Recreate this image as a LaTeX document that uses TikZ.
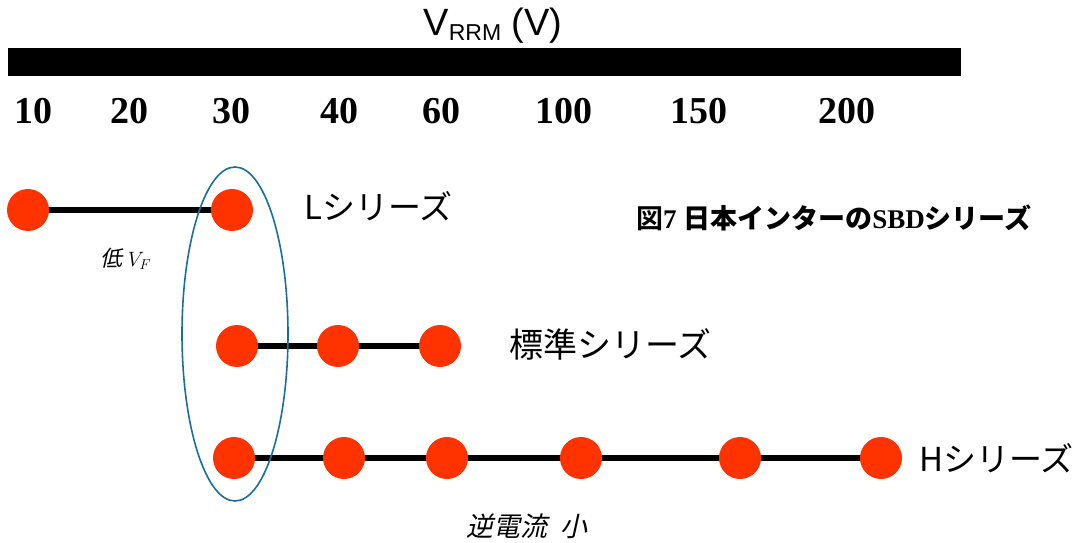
\documentclass[tikz,border=0pt]{standalone}
\usepackage{fontspec}
\setmainfont{Liberation Sans}
\newfontfamily\serifb{Liberation Serif}[BoldFont={* Bold}]
\newfontfamily\cjk{Noto Sans CJK JP}
\newfontfamily\cjkslant{Noto Sans CJK JP}[FakeSlant=0.22]
\newfontfamily\cjkbold{Noto Sans CJK JP Bold}
\usetikzlibrary{shapes.geometric,backgrounds}
\definecolor{dot}{RGB}{255,51,0}
\definecolor{ringblue}{RGB}{25,110,160}
\tikzset{
  dotnode/.style={circle,fill=dot,draw=none,minimum size=42pt,inner sep=0pt},
  link/.style={line width=6.5pt,black},
  tick/.style={anchor=base,inner sep=0pt,font=\serifb\bfseries\fontsize{38}{38}\selectfont},
  serieslabel/.style={anchor=base west,inner sep=0pt},
  ring/.style={ellipse,draw=ringblue,line width=1.6pt,minimum width=106pt,minimum height=334pt,inner sep=0pt}
}
\begin{document}
\begin{tikzpicture}[x=1pt,y=-1pt]
\useasboundingbox (0,0) rectangle (1080,543);
% title and bar
\node[anchor=base,inner sep=0pt] (title) at (493,36) {\fontsize{38}{38}\selectfont V\raisebox{-5pt}{\fontsize{23}{23}\selectfont RRM} (V)};
\fill[black] (8,48) rectangle (961,76);
\node (bar) at (484,62) {};
% scale numbers
\node[tick] (t10) at (33,124) {10};
\node[tick] (t20) at (129,124) {20};
\node[tick] (t30) at (231,124) {30};
\node[tick] (t40) at (339,124) {40};
\node[tick] (t60) at (441,124) {60};
\node[tick] (t100) at (564,124) {100};
\node[tick] (t150) at (699,124) {150};
\node[tick] (t200) at (847,124) {200};
% ellipse
\node[ring] (grp) at (235,334) {};
% L series
\node[dotnode] (l1) at (28,210) {};
\node[dotnode] (l2) at (232,210) {};
% standard
\node[dotnode] (s1) at (237,346) {};
\node[dotnode] (s2) at (338,346) {};
\node[dotnode] (s3) at (440,346) {};
% H series
\node[dotnode] (h1) at (234,458) {};
\node[dotnode] (h2) at (344,458) {};
\node[dotnode] (h3) at (447,458) {};
\node[dotnode] (h4) at (581,458) {};
\node[dotnode] (h5) at (740,458) {};
\node[dotnode] (h6) at (881,458) {};
\begin{scope}[on background layer]
\draw[link] (l1.center) -- (l2.center);
\draw[link] (s1.center) -- (s2.center) -- (s3.center);
\draw[link] (h1.center) -- (h2.center) -- (h3.center) -- (h4.center) -- (h5.center) -- (h6.center);
\end{scope}
% labels
\node[serieslabel] (lL) at (304,219) {\cjk\fontsize{33}{33}\selectfont Lシリーズ};
\node[serieslabel] (lS) at (509,357) {\cjk\fontsize{34}{34}\selectfont 標準シリーズ};
\node[serieslabel] (lH) at (919,471) {\cjk\fontsize{33}{33}\selectfont Hシリーズ};
\node[serieslabel] (fig) at (636,228) {\fontsize{27}{27}\selectfont\cjkbold 図\serifb\bfseries 7 \cjkbold 日本インターの\serifb\bfseries SBD\cjkbold シリーズ};
\node[anchor=base,inner sep=0pt] (vf) at (126,266) {\fontsize{22}{22}\selectfont\cjkslant 低\ $V_F$};
\node[anchor=base,inner sep=0pt] (ir) at (527,536) {\fontsize{27}{27}\selectfont\cjkslant 逆電流\ \ 小};
\end{tikzpicture}
\end{document}
